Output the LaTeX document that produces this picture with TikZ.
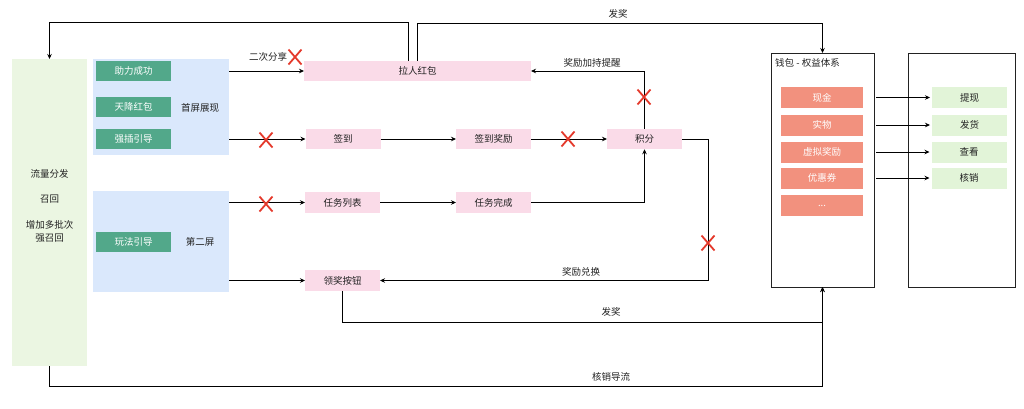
\documentclass[tikz,border=0pt]{standalone}
\usepackage{fontspec}
\setmainfont{Noto Sans CJK SC}
\usetikzlibrary{arrows.meta}
\definecolor{lgreen}{HTML}{EBF6E2}
\definecolor{lblue}{HTML}{DAE8FC}
\definecolor{btngreen}{HTML}{52A88A}
\definecolor{pinkc}{HTML}{FADBE8}
\definecolor{salmon}{HTML}{F2917E}
\definecolor{itemgreen}{HTML}{E2F4D8}
\definecolor{xred}{HTML}{E4392B}
\definecolor{txt}{HTML}{222222}
\begin{document}
\begin{tikzpicture}[x=1pt,y=-1pt,
  font=\fontsize{9.5}{13}\selectfont, text=txt,
  base/.style={inner sep=0pt, outer sep=0pt, anchor=center},
  sidebox/.style={base, fill=lgreen},
  screenbox/.style={base, fill=lblue},
  btn/.style={base, fill=btngreen, text=white, minimum width=75, minimum height=20},
  pinkbox/.style={base, fill=pinkc, minimum width=75, minimum height=20.5},
  panel/.style={base, draw=txt, line width=0.9pt},
  reditem/.style={base, fill=salmon, text=white, minimum width=82, minimum height=21},
  greenitem/.style={base, fill=itemgreen, minimum width=75, minimum height=21},
  lbl/.style={inner sep=0pt},
  arr/.style={draw=black, line width=0.8pt, -{Stealth[length=5pt,width=4.5pt]}},
  xmark/.style={draw=xred, line width=1.8pt}]
\useasboundingbox (0,0) rectangle (1024,408);

% left side box
\node[sidebox, minimum width=75, minimum height=307] (ll) at (49.5,212.5) {};
\node[lbl] (l1) at (49.5,174) {流量分发};
\node[lbl] (l2) at (49.5,199) {召回};
\node[lbl, align=center] (l3) at (49.5,231.5) {增加多批次\\强召回};

% screens
\node[screenbox, minimum width=136, minimum height=96] (s1) at (161,107) {};
\node[screenbox, minimum width=136, minimum height=101] (s2) at (161,241.5) {};
\node[btn] (b1) at (133.5,71) {助力成功};
\node[btn] (b2) at (133.5,107) {天降红包};
\node[btn] (b3) at (133.5,139) {强插引导};
\node[btn] (b4) at (133.5,242) {玩法引导};
\node[lbl] (s1t) at (200,108) {首屏展现};
\node[lbl] (s2t) at (200,242) {第二屏};

% pink nodes
\node[pinkbox, minimum width=227] (lrhb) at (417.5,71) {拉人红包};
\node[pinkbox] (qd) at (343,139) {签到};
\node[pinkbox] (qdjl) at (493.5,139) {签到奖励};
\node[pinkbox] (jf) at (644.5,139) {积分};
\node[pinkbox] (rwlb) at (342.5,202.5) {任务列表};
\node[pinkbox] (rwwc) at (493.5,202.5) {任务完成};
\node[pinkbox] (ljan) at (342.5,280.5) {领奖按钮};

% wallet
\node[panel, minimum width=103, minimum height=234] (wallet) at (822.5,170) {};
\node[lbl, anchor=west] (wt) at (775,63) {钱包 - 权益体系};
\node[reditem] (xj) at (822,97.5) {现金};
\node[reditem] (sw) at (822,125) {实物};
\node[reditem] (xn) at (822,152) {虚拟奖励};
\node[reditem] (yh) at (822,178) {优惠券};
\node[reditem] (dd) at (822,205.5) {...};

\node[panel, minimum width=107, minimum height=234] (rp) at (961.5,170) {};
\node[greenitem] (tx) at (969.5,97.5) {提现};
\node[greenitem] (fh) at (969.5,125) {发货};
\node[greenitem] (ck) at (969,152) {查看};
\node[greenitem] (hx) at (969,178) {核销};

% helper coordinates
\coordinate (ytop1) at (0,22);
\coordinate (ytop2) at (0,23.5);
\coordinate (ybot1) at (0,322.5);
\coordinate (ybot2) at (0,386);
\coordinate (xr) at (708,0);

% connectors
\draw[arr] (lrhb.west -| s1.east) -- (lrhb.west);
\draw[arr] (qd.west -| s1.east) -- (qd.west);
\draw[arr] (qd.east) -- (qdjl.west);
\draw[arr] (qdjl.east) -- (jf.west);
\draw[arr] (jf.north) -- (jf.north |- lrhb.east) -- (lrhb.east);
\draw[arr] (rwlb.west -| s2.east) -- (rwlb.west);
\draw[arr] (rwlb.east) -- (rwwc.west);
\draw[arr] (rwwc.east) -| (jf.south);
\draw[arr] (ljan.west -| s2.east) -- (ljan.west);
\draw[arr] (jf.east) -| (xr |- ljan.east) -- (ljan.east);
\draw[arr] ([xshift=-9pt]lrhb.north) |- (ll.north |- ytop1) -- (ll.north);
\draw[arr] (lrhb.north) |- (wallet.north |- ytop2) -- (wallet.north);
\draw[arr] (ljan.south) |- (wallet.south |- ybot1) -- (wallet.south);
\draw[arr] (ll.south) |- (wallet.south |- ybot2) -- (wallet.south);
\draw[arr, shorten <=2pt, shorten >=2pt] (xj.east -| wallet.east) -- (tx.west);
\draw[arr, shorten <=2pt, shorten >=2pt] (sw.east -| wallet.east) -- (fh.west);
\draw[arr, shorten <=2pt, shorten >=2pt] (xn.east -| wallet.east) -- (ck.west);
\draw[arr, shorten <=2pt, shorten >=2pt] (yh.east -| wallet.east) -- (hx.west);

% connector labels
\node[lbl] (c1) at (268,57) {二次分享};
\node[lbl] (c2) at (592,63) {奖励加持提醒};
\node[lbl] (c3) at (618,14) {发奖};
\node[lbl] (c4) at (581,272) {奖励兑换};
\node[lbl] (c5) at (611,312) {发奖};
\node[lbl] (c6) at (611,377) {核销导流};

% red crosses
\foreach \px/\py in {295/57, 266/140, 568/139, 644/97, 266/204, 708/243} {
  \draw[xmark] (\px-6.5,\py-7.5) -- (\px+6.5,\py+7.5) (\px-6.5,\py+7.5) -- (\px+6.5,\py-7.5);
}
\end{tikzpicture}
\end{document}
